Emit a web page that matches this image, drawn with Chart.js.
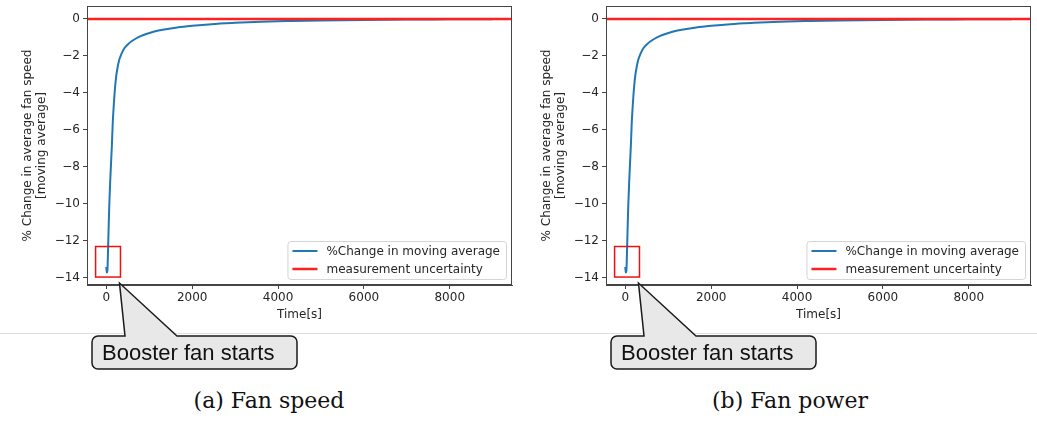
<!DOCTYPE html>
<html>
<head>
<meta charset="utf-8">
<script src="https://cdn.jsdelivr.net/npm/chart.js@4.4.1/dist/chart.umd.min.js"></script>
<style>
  html, body { margin: 0; padding: 0; background: #fff; overflow: hidden; }
  #page { position: relative; width: 1037px; height: 425px; }
  .rule { position: absolute; left: 0; top: 333px; width: 1037px; height: 1px; background: #dedede; }
  .panel { position: absolute; top: 0; width: 520px; height: 380px; }
  .caption {
    position: absolute; top: 388px; transform: translateX(-50%); white-space: nowrap;
    font-family: "DejaVu Serif", serif; font-size: 22px; color: #111;
  }
</style>
</head>
<body>
<div id="page">
  <div class="rule"></div>
  <div class="panel" style="left:0"><canvas id="speedChart" width="520" height="380"></canvas></div>
  <div class="panel" style="left:519px"><canvas id="powerChart" width="520" height="380"></canvas></div>
  <div class="caption" style="left:269px">(a) Fan speed</div>
  <div class="caption" style="left:790px">(b) Fan power</div>
</div>

<script>
// ---- data ----
const timeS      = [0, 10, 25, 40, 55, 70, 90, 110, 130, 150, 170, 200, 230, 260, 300, 350, 420, 500, 580, 680,
                    800, 950, 1120, 1350, 1650, 2000, 2450, 3000, 3600, 4300, 5000, 6000, 7000, 8000, 9000];
const speedPct   = [-13.4, -13.7, -13.6, -12.5, -11.2, -10.0, -8.8, -7.8, -6.8, -5.6, -4.8, -3.8, -3.1, -2.65, -2.22, -1.9, -1.58, -1.38, -1.22, -1.07,
                    -0.93, -0.8, -0.68, -0.57, -0.46, -0.37, -0.28, -0.21, -0.15, -0.11, -0.08, -0.05, -0.03, -0.02, -0.01];
const powerPct   = [-13.4, -13.7, -13.6, -12.5, -11.2, -10.0, -8.8, -7.8, -6.8, -5.6, -4.8, -3.8, -3.1, -2.65, -2.22, -1.9, -1.58, -1.38, -1.22, -1.07,
                    -0.93, -0.8, -0.68, -0.57, -0.46, -0.37, -0.28, -0.21, -0.15, -0.11, -0.08, -0.05, -0.03, -0.02, -0.01];
const limitT     = [-450, 9450];
const limitPct   = [0, 0];
const xTicks     = [0, 2000, 4000, 6000, 8000];
const yTicks     = [-14, -12, -10, -8, -6, -4, -2, 0];
const seriesNames = ['%Change in moving average', 'measurement uncertainty'];
const yTitle     = ['% Change in average fan speed', '[moving average]'];
const xTitle     = 'Time[s]';
const calloutText = 'Booster fan starts';
// highlighted start region, in data units
const startBoxT  = [-250, 330];
const startBoxV  = [-12.3, -13.95];

const SANS   = '"DejaVu Sans", sans-serif';
const INK    = '#262626';
const BLUE   = '#1f77b4';
const RED    = '#ff2020';

const minus = v => (v < 0 ? '\u2212' + Math.abs(v) : String(v));
const pts = (xs, ys) => xs.map((x, i) => ({ x, y: ys[i] }));

/* ---- frame, legend, start box and callout ---- */
const decorations = {
  id: 'decorations',
  afterDatasetsDraw(chart) {
    const { ctx, chartArea: a, scales: { x, y } } = chart;
    ctx.save();

    // axes frame
    ctx.strokeStyle = '#444';
    ctx.lineWidth = 1;
    ctx.strokeRect(a.left + 0.5, a.top + 0.5, a.right - a.left - 1, a.bottom - a.top - 1);

    // red box round the start of the run
    const bx0 = x.getPixelForValue(startBoxT[0]), bx1 = x.getPixelForValue(startBoxT[1]);
    const by0 = y.getPixelForValue(startBoxV[0]), by1 = y.getPixelForValue(startBoxV[1]);
    ctx.strokeStyle = '#ee1111';
    ctx.lineWidth = 1.5;
    ctx.strokeRect(bx0, by0, bx1 - bx0, by1 - by0);

    // legend, lower right
    ctx.font = '12px ' + SANS;
    const textW = Math.max(...seriesNames.map(s => ctx.measureText(s).width));
    const w = 5 + 25 + 9 + textW + 6, h = 38;
    const lx = a.right - 6 - w, ly = a.bottom - 6 - h;
    ctx.fillStyle = 'rgba(255,255,255,0.85)';
    ctx.strokeStyle = '#d4d4d4';
    ctx.lineWidth = 1;
    ctx.beginPath();
    ctx.roundRect(lx + 0.5, ly + 0.5, w, h, 3);
    ctx.fill();
    ctx.stroke();
    chart.data.datasets.forEach((ds, i) => {
      const ry = ly + 10 + i * 18;
      ctx.strokeStyle = ds.borderColor;
      ctx.lineWidth = ds.borderWidth;
      ctx.beginPath();
      ctx.moveTo(lx + 5, ry);
      ctx.lineTo(lx + 30, ry);
      ctx.stroke();
      ctx.fillStyle = INK;
      ctx.textBaseline = 'middle';
      ctx.fillText(seriesNames[i], lx + 39, ry + 1);
    });

    // speech bubble pointing at the red box
    const tipX = bx1 - 1, tipY = by1 + 6;
    const L = 92, R = 297, T = 336, B = 369, r = 6;
    const p0 = 125, p1 = 177;
    ctx.beginPath();
    ctx.moveTo(L + r, T);
    ctx.lineTo(p0, T);
    ctx.lineTo(tipX, tipY);
    ctx.lineTo(p1, T);
    ctx.arcTo(R, T, R, B, r);
    ctx.arcTo(R, B, L, B, r);
    ctx.arcTo(L, B, L, T, r);
    ctx.arcTo(L, T, R, T, r);
    ctx.closePath();
    ctx.fillStyle = '#e8e8e8';
    ctx.fill();
    ctx.strokeStyle = '#1a1a1a';
    ctx.lineWidth = 1.5;
    ctx.stroke();
    ctx.fillStyle = '#111';
    ctx.font = '22px "Liberation Sans", Arial, sans-serif';
    ctx.textBaseline = 'alphabetic';
    ctx.fillText(calloutText, 102, 360);

    ctx.restore();
  }
};

function makePanel(canvasId, values) {
  return new Chart(document.getElementById(canvasId), {
    type: 'line',
    data: {
      datasets: [
        {
          label: seriesNames[0],
          data: pts(timeS, values),
          borderColor: BLUE,
          borderWidth: 2,
          pointRadius: 0,
          cubicInterpolationMode: 'monotone',
          order: 2,
        },
        {
          label: seriesNames[1],
          data: pts(limitT, limitPct),
          borderColor: RED,
          borderWidth: 2.5,
          pointRadius: 0,
          order: 1,
        },
      ],
    },
    options: {
      responsive: false,
      animation: false,
      events: [],
      layout: { padding: { left: 0, top: 6, right: 8, bottom: 50 } },
      plugins: { legend: { display: false }, tooltip: { enabled: false } },
      scales: {
        x: {
          type: 'linear',
          min: -450,
          max: 9450,
          afterBuildTicks: s => { s.ticks = xTicks.map(value => ({ value })); },
          afterFit: s => { s.height = 45; s.paddingLeft = 0; s.paddingRight = 0; },
          grid: { drawOnChartArea: false, color: '#444', tickLength: 4 },
          border: { color: '#444' },
          ticks: { color: INK, font: { family: SANS, size: 12 }, padding: 2, maxRotation: 0, callback: v => minus(v) },
          title: { display: true, text: xTitle, color: INK, font: { family: SANS, size: 12 }, padding: { top: 0, bottom: 8 } },
        },
        y: {
          type: 'linear',
          min: -14.38,
          max: 0.7,
          afterBuildTicks: s => { s.ticks = yTicks.map(value => ({ value })); },
          afterFit: s => { s.width = 87; s.paddingTop = 0; s.paddingBottom = 0; },
          grid: { drawOnChartArea: false, color: '#444', tickLength: 4 },
          border: { color: '#444' },
          ticks: { color: INK, font: { family: SANS, size: 12 }, padding: 3, callback: v => minus(v) },
          title: { display: true, text: yTitle, color: INK, font: { family: SANS, size: 12, lineHeight: 1.15 }, padding: { top: 21, bottom: 0 } },
        },
      },
    },
    plugins: [decorations],
  });
}

makePanel('speedChart', speedPct);
makePanel('powerChart', powerPct);
</script>
</body>
</html>
